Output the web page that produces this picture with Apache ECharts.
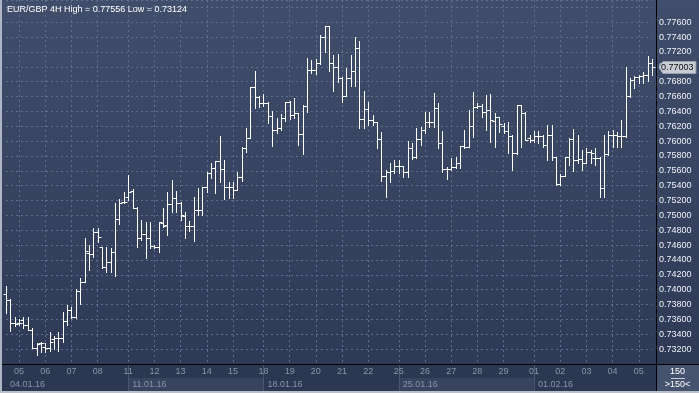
<!DOCTYPE html>
<html>
<head>
<meta charset="utf-8">
<script src="https://cdn.jsdelivr.net/npm/echarts@6/dist/echarts.min.js"></script>
<style>html,body{margin:0;padding:0;background:#2f3b57;}#c{width:699px;height:393px;}</style>
</head>
<body>
<div id="c"></div>
<script>
// ---- data ----
const H6 = ['00:00','04:00','08:00','12:00','16:00','20:00'];
const sessions = [
  ['04.01.16', ['12:00','16:00','20:00']],
  ['05.01.16', H6], ['06.01.16', H6], ['07.01.16', H6], ['08.01.16', H6],
  ['10.01.16', ['20:00']],
  ['11.01.16', H6], ['12.01.16', H6], ['13.01.16', H6], ['14.01.16', H6], ['15.01.16', H6],
  ['17.01.16', ['20:00']],
  ['18.01.16', H6], ['19.01.16', H6], ['20.01.16', H6], ['21.01.16', H6], ['22.01.16', H6],
  ['24.01.16', ['20:00']],
  ['25.01.16', H6], ['26.01.16', H6], ['27.01.16', H6], ['28.01.16', H6], ['29.01.16', H6],
  ['31.01.16', ['20:00']],
  ['01.02.16', H6], ['02.02.16', H6], ['03.02.16', H6], ['04.02.16', H6],
  ['05.02.16', ['00:00','04:00','08:00','12:00']]
];
const categories = [];
sessions.forEach(s => s[1].forEach(h => categories.push(s[0] + ' ' + h)));

const weekStarts = ['11.01.16 00:00', '18.01.16 00:00', '25.01.16 00:00', '01.02.16 00:00'];
const shadedWeeks = [['11.01.16 00:00', '18.01.16 00:00'], ['25.01.16 00:00', '01.02.16 00:00']];

const opens = [
0.73941,0.73860,0.73546,0.73546,0.73591,0.73524,0.73456,0.73218,0.73277,0.73223,
0.73209,0.73330,0.73344,0.73344,0.73573,0.73725,0.73627,0.73981,0.74098,0.74489,
0.74475,0.74780,0.74569,0.74300,0.74367,0.74511,0.74946,0.75184,0.75252,0.75333,
0.75095,0.74691,0.74749,0.74691,0.74587,0.74569,0.74893,0.74870,0.75153,0.75238,
0.75162,0.74991,0.74857,0.74857,0.75072,0.75072,0.75378,0.75566,0.75633,0.75732,
0.75624,0.75378,0.75378,0.75342,0.75521,0.75912,0.76046,0.76733,0.76599,0.76509,
0.76509,0.76343,0.76150,0.76181,0.76307,0.76522,0.76352,0.76374,0.76096,0.76473,
0.76958,0.76958,0.77047,0.77398,0.77550,0.77056,0.76994,0.76845,0.76612,0.76854,
0.76944,0.77249,0.76293,0.76432,0.76284,0.76253,0.76028,0.75526,0.75589,0.75602,
0.75660,0.75669,0.75584,0.75903,0.75791,0.76024,0.76150,0.76262,0.76253,0.76441,
0.75979,0.75620,0.75624,0.75647,0.75710,0.75934,0.75925,0.76204,0.76455,0.76473,
0.76397,0.76419,0.76275,0.76320,0.76203,0.76141,0.76069,0.75844,0.76486,0.76383,
0.76037,0.76015,0.76069,0.76069,0.75948,0.76082,0.75781,0.75418,0.75530,0.75781,
0.76024,0.75746,0.75755,0.75701,0.75858,0.75768,0.75768,0.75373,0.75822,0.76082,
0.76082,0.76069,0.76069,0.76607,0.76823,0.76868,0.76877,0.76890,0.77047
];
const highs = [
0.74049,0.73869,0.73636,0.73604,0.73627,0.73636,0.73479,0.73286,0.73299,0.73286,
0.73425,0.73375,0.73425,0.73703,0.73793,0.73770,0.74004,0.74152,0.74691,0.74601,
0.74825,0.74825,0.74578,0.74578,0.74556,0.75162,0.75216,0.75319,0.75544,0.75350,
0.75117,0.74937,0.74915,0.74915,0.74601,0.74915,0.75095,0.75319,0.75476,0.75328,
0.75185,0.75050,0.74924,0.75252,0.75364,0.75387,0.75589,0.75701,0.75735,0.76069,
0.75746,0.75454,0.75454,0.75589,0.75925,0.76172,0.76733,0.76944,0.76607,0.76634,
0.76522,0.76406,0.76316,0.76361,0.76531,0.76540,0.76576,0.76374,0.76486,0.77124,
0.77092,0.77106,0.77429,0.77556,0.77556,0.77160,0.77173,0.76868,0.76980,0.77160,
0.77398,0.77348,0.76675,0.76522,0.76352,0.76253,0.76127,0.75611,0.75701,0.75746,
0.75746,0.75670,0.76002,0.75970,0.76172,0.76195,0.76388,0.76388,0.76643,0.76509,
0.76136,0.75656,0.75768,0.75791,0.75936,0.76150,0.76419,0.76657,0.76509,0.76495,
0.76621,0.76630,0.76374,0.76329,0.76248,0.76262,0.76082,0.76486,0.76486,0.76387,
0.76082,0.76136,0.76136,0.76082,0.76217,0.76217,0.75790,0.75557,0.75790,0.76037,
0.76159,0.76082,0.75880,0.75903,0.75880,0.75903,0.75781,0.76082,0.76136,0.76150,
0.76127,0.76284,0.77002,0.76845,0.76877,0.76890,0.76935,0.77146,0.77101
];
const lows = [
0.73681,0.73447,0.73515,0.73524,0.73479,0.73456,0.73209,0.73124,0.73164,0.73164,
0.73178,0.73196,0.73178,0.73299,0.73524,0.73613,0.73613,0.73806,0.74098,0.74264,
0.74444,0.74646,0.74287,0.74242,0.74242,0.74188,0.74884,0.75162,0.75207,0.75095,
0.74578,0.74668,0.74421,0.74556,0.74556,0.74511,0.74848,0.74736,0.75041,0.75050,
0.74938,0.74691,0.74789,0.74655,0.75005,0.75005,0.75319,0.75499,0.75297,0.75454,
0.75216,0.75238,0.75238,0.75340,0.75467,0.75858,0.76046,0.76450,0.76459,0.76477,
0.76239,0.75939,0.76105,0.76150,0.76271,0.76298,0.76316,0.75948,0.75822,0.76397,
0.76913,0.76904,0.77040,0.77196,0.76949,0.76675,0.76801,0.76531,0.76610,0.76742,
0.76742,0.76172,0.76172,0.76217,0.76217,0.75903,0.75467,0.75252,0.75454,0.75566,
0.75566,0.75521,0.75521,0.75759,0.75768,0.75948,0.76105,0.76195,0.76195,0.75903,
0.75589,0.75490,0.75611,0.75633,0.75633,0.75912,0.75925,0.76060,0.76450,0.76329,
0.76150,0.75993,0.75925,0.76127,0.76114,0.75835,0.75611,0.75830,0.75925,0.76015,
0.75992,0.75992,0.75970,0.75925,0.75746,0.75746,0.75409,0.75410,0.75525,0.75678,
0.75602,0.75701,0.75611,0.75701,0.75701,0.75678,0.75252,0.75252,0.75815,0.75925,
0.75925,0.75925,0.76060,0.76598,0.76711,0.76778,0.76778,0.76814,0.76890
];
const closes = [
0.73860,0.73546,0.73537,0.73546,0.73524,0.73456,0.73218,0.73268,0.73277,0.73218,
0.73299,0.73344,0.73344,0.73573,0.73725,0.73627,0.73981,0.74098,0.74520,0.74475,
0.74780,0.74713,0.74300,0.74367,0.74511,0.74946,0.75171,0.75184,0.75319,0.75095,
0.74700,0.74749,0.74691,0.74587,0.74569,0.74911,0.74857,0.75153,0.75238,0.75162,
0.75005,0.74857,0.74857,0.75072,0.75072,0.75378,0.75566,0.75633,0.75732,0.75624,
0.75378,0.75378,0.75342,0.75521,0.75912,0.76046,0.76733,0.76599,0.76509,0.76509,
0.76343,0.76150,0.76181,0.76307,0.76522,0.76352,0.76374,0.76096,0.76473,0.76958,
0.76958,0.77047,0.77398,0.77550,0.77056,0.76994,0.76845,0.76612,0.76854,0.76944,
0.77249,0.76293,0.76432,0.76284,0.76253,0.76028,0.75526,0.75589,0.75602,0.75660,
0.75669,0.75584,0.75903,0.75791,0.76024,0.76150,0.76262,0.76253,0.76441,0.75979,
0.75620,0.75624,0.75647,0.75710,0.75934,0.75925,0.76204,0.76455,0.76473,0.76397,
0.76419,0.76284,0.76320,0.76230,0.76141,0.76069,0.75844,0.76486,0.76383,0.76015,
0.76015,0.76069,0.76069,0.75948,0.76082,0.75781,0.75418,0.75530,0.75781,0.76024,
0.75746,0.75755,0.75701,0.75858,0.75835,0.75768,0.75373,0.75822,0.76082,0.76082,
0.76069,0.76069,0.76607,0.76823,0.76868,0.76877,0.76890,0.77047,0.77003
];
const yTickMin = 0.732, yTickMax = 0.776;
const titleText = 'EUR/GBP 4H High = 0.77556 Low = 0.73124';
const cornerTop = '150', cornerBottom = '>150<';

// ---- chart ----
const FONT = '"Liberation Sans", Arial, sans-serif';
const GRID_COL = '#5e6e8e';
const chart = echarts.init(document.getElementById('c'), null, {renderer: 'canvas'});
const ohlc = opens.map((o, i) => [i, o, closes[i], lows[i], highs[i]]);
const isDayStart = (idx) => categories[idx].slice(9) === '00:00';
const isWeekLabel = (idx) => idx === 0 || weekStarts.indexOf(categories[idx]) >= 0;
const lastIndex = closes.length - 1;

function renderItem(params, api) {
  const i = api.value(0);
  const o = api.coord([i, api.value(1)]);
  const c = api.coord([i, api.value(2)]);
  const l = api.coord([i, api.value(3)]);
  const h = api.coord([i, api.value(4)]);
  const x = Math.round(o[0]) + 0.5;
  const st = {stroke: '#ffffff', lineWidth: 1};
  const oy = Math.round(o[1]) + 0.5, cy = Math.round(c[1]) + 0.5;
  const children = [
    {type: 'line', shape: {x1: x, y1: Math.round(h[1]), x2: x, y2: Math.round(l[1]) + 1}, style: st},
    {type: 'line', shape: {x1: x - 3, y1: oy, x2: x, y2: oy}, style: st},
    {type: 'line', shape: {x1: x, y1: cy, x2: x + 3, y2: cy}, style: st}
  ];
  if (params.dataIndex === lastIndex) {
    // current price tag on the price scale
    const cs = params.coordSys;
    const tip = cs.x + cs.width + 7;
    const yc = Math.round(c[1]) + 0.5;
    children.push({type: 'polygon', z2: 50,
      shape: {points: [[tip, yc], [tip + 4, yc - 6], [tip + 37, yc - 6], [tip + 37, yc + 6], [tip + 4, yc + 6]]},
      style: {fill: '#c8ccd4', stroke: '#9aa1ae', lineWidth: 1}});
    children.push({type: 'text', z2: 51,
      style: {text: api.value(2).toFixed(5), x: tip + 2, y: yc + 0.5, fill: '#111111', font: '9px ' + FONT,
              textAlign: 'left', textVerticalAlign: 'middle'}});
  }
  return {type: 'group', children: children};
}

const option = {
  animation: false,
  title: {text: titleText, left: 2, top: 0, textStyle: {color: '#ffffff', fontSize: 9, fontWeight: 'normal', fontFamily: FONT}},
  graphic: [
    {type: 'rect', z: -100, shape: {x: 0, y: 0, width: 699, height: 393},
     style: {fill: new echarts.graphic.LinearGradient(0, 0, 0, 1, [{offset: 0, color: '#414e6b'}, {offset: 1, color: '#2c3854'}])}},
    {type: 'rect', z: -90, shape: {x: 0, y: 364, width: 656, height: 29}, style: {fill: '#2c3751'}},
    {type: 'rect', z: -90, shape: {x: 657, y: 365, width: 42, height: 26}, style: {fill: '#46536f'}},
    {type: 'line', z: 100, shape: {x1: 0, y1: 364.5, x2: 699, y2: 364.5}, style: {stroke: '#000000', lineWidth: 1}},
    {type: 'line', z: 100, shape: {x1: 656.5, y1: 0, x2: 656.5, y2: 393}, style: {stroke: '#000000', lineWidth: 1}},
    {type: 'text', z: 100, style: {text: cornerTop, x: 677.5, y: 372, fill: '#ffffff', font: '9px ' + FONT, textAlign: 'center', textVerticalAlign: 'middle'}},
    {type: 'line', z: 100, shape: {x1: 671, y1: 378.5, x2: 685, y2: 378.5}, style: {stroke: '#c8cdd8', lineWidth: 1}},
    {type: 'text', z: 100, style: {text: cornerBottom, x: 677.5, y: 385, fill: '#ffffff', font: '9px ' + FONT, textAlign: 'center', textVerticalAlign: 'middle'}},
    {type: 'rect', z: 110, shape: {x: 0, y: 0, width: 2, height: 393}, style: {fill: '#aeb6c6'}},
    {type: 'rect', z: 110, shape: {x: 0, y: 391, width: 699, height: 2}, style: {fill: '#b9c0cc'}}
  ],
  grid: [
    {left: 6, right: 47.1, top: 0, height: 364},
    {left: 6, right: 47.1, top: 364, height: 27}
  ],
  xAxis: [
    {gridIndex: 0, type: 'category', data: categories, boundaryGap: false,
     axisLine: {show: false}, axisTick: {show: false}, axisLabel: {show: false},
     splitLine: {show: true, interval: (idx) => isDayStart(idx), lineStyle: {color: GRID_COL, type: [2, 3], width: 1}}},
    {gridIndex: 1, type: 'category', data: categories, boundaryGap: false, position: 'top', z: 10,
     axisLine: {show: false}, axisTick: {show: false}, splitLine: {show: false},
     axisLabel: {inside: true, margin: 3, interval: (idx) => isDayStart(idx), formatter: (v) => v.slice(0, 2),
                 color: '#8894aa', fontSize: 9, fontFamily: FONT}},
    {gridIndex: 1, type: 'category', data: categories, boundaryGap: false, position: 'bottom', z: 10,
     axisLine: {show: false}, axisTick: {show: false}, splitLine: {show: false},
     axisLabel: {inside: true, margin: 2, interval: (idx) => isWeekLabel(idx), formatter: (v) => v.slice(0, 8),
                 align: 'left', padding: [0, 0, 0, 4], color: '#8894aa', fontSize: 9, fontFamily: FONT}}
  ],
  yAxis: [
    {gridIndex: 0, type: 'value', position: 'right', offset: 4, min: 0.730, max: 0.779, interval: 0.002,
     axisLine: {show: false}, axisTick: {show: false},
     axisLabel: {margin: 3, color: '#eef1f6', fontSize: 9, fontFamily: FONT,
                 formatter: (v) => (v < yTickMin - 0.0005 || v > yTickMax + 0.0005) ? '' : v.toFixed(5)},
     splitLine: {show: true, lineStyle: {color: GRID_COL, type: [2, 3], width: 1}}},
    {gridIndex: 1, type: 'value', min: 0, max: 1, show: false}
  ],
  series: [
    {type: 'custom', xAxisIndex: 0, yAxisIndex: 0, data: ohlc, renderItem: renderItem, clip: false,
     encode: {x: 0, y: [1, 2, 3, 4]}, z: 20},
    {type: 'line', xAxisIndex: 2, yAxisIndex: 1, data: categories.map(() => '-'), symbol: 'none', silent: true,
     lineStyle: {opacity: 0}, z: -1,
     markArea: {silent: true, itemStyle: {color: '#38445e'},
       data: shadedWeeks.map(w => [{xAxis: w[0], yAxis: 0}, {xAxis: w[1], yAxis: 0.48}])},
     markLine: {silent: true, symbol: 'none', label: {show: false},
       lineStyle: {color: '#4a5670', type: 'solid', width: 1},
       data: weekStarts.map(w => ({xAxis: w}))}}
  ]
};
chart.setOption(option);
</script>
</body>
</html>
